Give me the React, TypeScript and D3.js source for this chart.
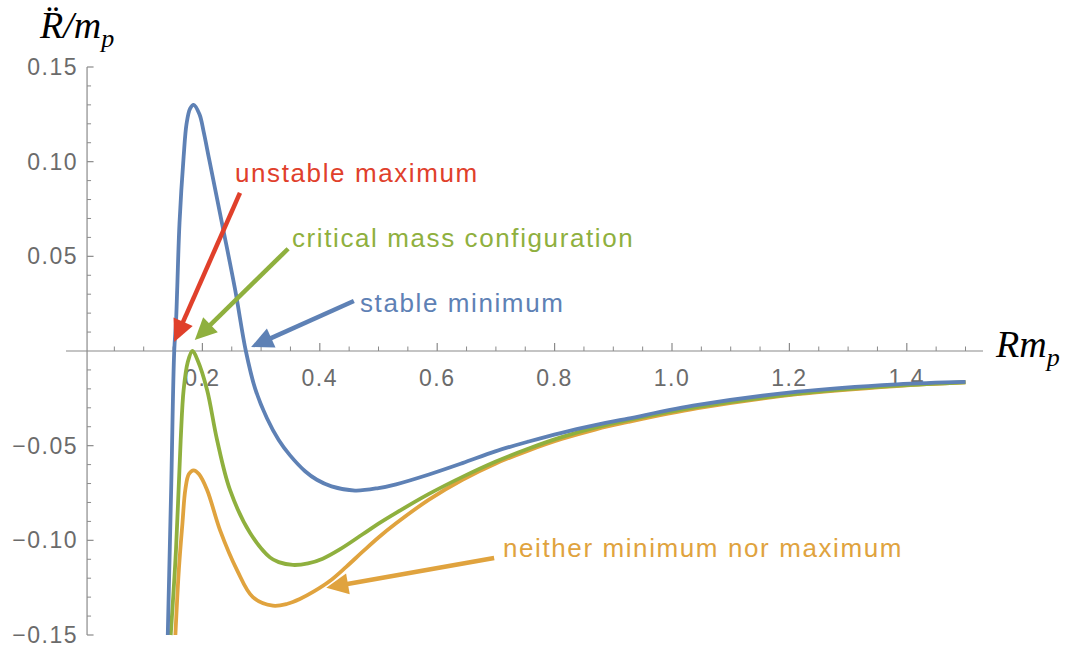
import * as d3 from "d3";

// series: x = R m_p, y = R̈ / m_p
const blueX = [0.141, 0.147, 0.152, 0.155, 0.157, 0.161, 0.168, 0.173, 0.179, 0.185, 0.195, 0.202, 0.212, 0.234, 0.256, 0.274, 0.29, 0.31, 0.33, 0.349, 0.375, 0.395, 0.42, 0.46, 0.5, 0.53, 0.586, 0.643, 0.699, 0.756, 0.812, 0.869, 0.925, 1.044, 1.214, 1.383, 1.5];
const blueY = [-0.15, -0.07, 0.0, 0.015, 0.032, 0.0676, 0.1025, 0.12, 0.128, 0.13, 0.125, 0.116, 0.1005, 0.0665, 0.032, 0.0, -0.02, -0.0355, -0.047, -0.055, -0.0635, -0.068, -0.0715, -0.0737, -0.0724, -0.0704, -0.0652, -0.0592, -0.053, -0.0478, -0.0432, -0.0392, -0.0357, -0.0285, -0.0215, -0.0176, -0.0163];

const greenX = [0.146, 0.155, 0.163, 0.168, 0.175, 0.183, 0.192, 0.208, 0.225, 0.247, 0.281, 0.315, 0.33, 0.354, 0.38, 0.405, 0.434, 0.473, 0.5, 0.53, 0.586, 0.643, 0.699, 0.756, 0.812, 0.869, 0.925, 1.044, 1.214, 1.383, 1.5];
const greenY = [-0.15, -0.105, -0.047, -0.0206, -0.006, 0.0, -0.005, -0.0206, -0.047, -0.0734, -0.096, -0.109, -0.1115, -0.113, -0.1122, -0.1097, -0.1048, -0.0968, -0.0912, -0.0855, -0.0755, -0.0665, -0.0585, -0.0515, -0.0455, -0.0405, -0.0365, -0.0295, -0.0225, -0.0183, -0.0165];

const orangeX = [0.154, 0.16, 0.166, 0.171, 0.177, 0.185, 0.194, 0.208, 0.23, 0.259, 0.286, 0.32, 0.345, 0.366, 0.39, 0.417, 0.445, 0.473, 0.5, 0.53, 0.586, 0.643, 0.699, 0.756, 0.812, 0.869, 0.925, 1.044, 1.214, 1.383, 1.5];
const orangeY = [-0.15, -0.115, -0.091, -0.073, -0.065, -0.063, -0.065, -0.0734, -0.0946, -0.1157, -0.13, -0.1345, -0.1335, -0.131, -0.127, -0.1215, -0.114, -0.106, -0.0985, -0.091, -0.0785, -0.068, -0.0595, -0.0525, -0.0465, -0.0415, -0.0375, -0.0302, -0.0228, -0.0185, -0.0166];

const xTickLabels = ["0.2", "0.4", "0.6", "0.8", "1.0", "1.2", "1.4"];
const xTickValues = [0.2, 0.4, 0.6, 0.8, 1.0, 1.2, 1.4];
const yTickLabels = ["\u22120.15", "\u22120.10", "\u22120.05", "0.05", "0.10", "0.15"];
const yTickValues = [-0.15, -0.1, -0.05, 0.05, 0.1, 0.15];

// annotations: text, label anchor, arrow start, arrow tip (data units)
const notes = [
  { text: "unstable maximum", color: "#e0402b", lx: 0.2555, ly: 0.0893, x0: 0.264, y0: 0.0835, x1: 0.152, y1: 0.0048 },
  { text: "critical mass configuration", color: "#8fb03e", lx: 0.3526, ly: 0.0549, x0: 0.346, y0: 0.054, x1: 0.187, y1: 0.0058 },
  { text: "stable minimum", color: "#5e81b5", lx: 0.4685, ly: 0.0206, x0: 0.458, y0: 0.0264, x1: 0.283, y1: 0.0021 },
  { text: "neither minimum nor maximum", color: "#e0a33e", lx: 0.712, ly: -0.1088, x0: 0.697, y0: -0.1093, x1: 0.411, y1: -0.125 },
];

const W = 1066;
const H = 650;

export default function App() {
  const x = d3.scaleLinear().domain([0, 1.5]).range([85, 85 + 1.5 * 587]);
  const y = d3.scaleLinear().domain([-0.15, 0.15]).range([635, 67]);
  const axisX = x(0.0035);
  const y0 = y(0);

  const line = d3
    .line<[number, number]>()
    .x((d) => x(d[0]))
    .y((d) => y(d[1]))
    .curve(d3.curveCatmullRom.alpha(0.5));

  const series = [
    { xs: orangeX, ys: orangeY, color: "#e0a33e" },
    { xs: greenX, ys: greenY, color: "#8fb03e" },
    { xs: blueX, ys: blueY, color: "#5e81b5" },
  ];

  const xMinor = d3.range(1, 31).map((i) => i * 0.05).filter((v) => Math.abs(v / 0.2 - Math.round(v / 0.2)) > 1e-6);
  const yMinor = d3.range(-15, 16).map((i) => i * 0.01).filter((v) => Math.abs(v / 0.05 - Math.round(v / 0.05)) > 1e-6);

  const tickFont = { fontFamily: "Liberation Sans, Arial, sans-serif", fontSize: 23, letterSpacing: 1.5, fill: "#6b6b6b" };
  const axisColor = "#8a8a8a";
  const serif = "Liberation Serif, Times New Roman, serif";

  const arrow = (n: (typeof notes)[number]) => {
    const ax = x(n.x0), ay = y(n.y0), bx = x(n.x1), by = y(n.y1);
    const dx = bx - ax, dy = by - ay;
    const len = Math.hypot(dx, dy);
    const ux = dx / len, uy = dy / len;
    const hl = 22, hw = 10.5;
    const cx = bx - ux * hl, cy = by - uy * hl;
    const pts = [
      [bx, by],
      [cx - uy * hw, cy + ux * hw],
      [cx + uy * hw, cy - ux * hw],
    ];
    return (
      <g key={n.text}>
        <line x1={ax} y1={ay} x2={cx + ux * 2} y2={cy + uy * 2} stroke={n.color} strokeWidth={4.5} />
        <polygon points={pts.map((p) => p.join(",")).join(" ")} fill={n.color} />
      </g>
    );
  };

  return (
    <svg width={W} height={H} style={{ position: "absolute", left: 0, top: 0, background: "#fff" }}>
      {/* axes */}
      <line x1={66} x2={983} y1={y0} y2={y0} stroke={axisColor} strokeWidth={1.2} />
      <line x1={axisX} x2={axisX} y1={y(0.15)} y2={y(-0.15)} stroke={axisColor} strokeWidth={1.2} />
      {xTickValues.map((v) => (
        <line key={"xt" + v} x1={x(v)} x2={x(v)} y1={y0} y2={y0 - 8} stroke={axisColor} strokeWidth={1.2} />
      ))}
      {xMinor.map((v) => (
        <line key={"xm" + v} x1={x(v)} x2={x(v)} y1={y0} y2={y0 - 4.5} stroke={axisColor} strokeWidth={1} />
      ))}
      {yTickValues.map((v) => (
        <line key={"yt" + v} x1={axisX} x2={axisX + 6.5} y1={y(v)} y2={y(v)} stroke={axisColor} strokeWidth={1.2} />
      ))}
      {yMinor.map((v) => (
        <line key={"ym" + v} x1={axisX} x2={axisX + 4} y1={y(v)} y2={y(v)} stroke={axisColor} strokeWidth={1} />
      ))}
      {xTickValues.map((v, i) => (
        <text key={"xl" + v} x={x(v)} y={y0 + 35} textAnchor="middle" {...tickFont}>
          {xTickLabels[i]}
        </text>
      ))}
      {yTickValues.map((v, i) => (
        <text key={"yl" + v} x={78} y={y(v)} textAnchor="end" dominantBaseline="central" {...tickFont}>
          {yTickLabels[i]}
        </text>
      ))}

      {/* axis labels */}
      <text x={40} y={38} fontFamily={serif} fontStyle="italic" fontSize={38} fill="#000">
        {"R\u0308/m"}
        <tspan fontSize={26} dy={9}>p</tspan>
      </text>
      <text x={996} y={357} fontFamily={serif} fontStyle="italic" fontSize={38} fill="#000">
        Rm
        <tspan fontSize={26} dy={9}>p</tspan>
      </text>

      {/* curves */}
      {series.map((s) => (
        <path
          key={s.color}
          d={line(s.xs.map((v, i) => [v, s.ys[i]] as [number, number])) || ""}
          fill="none"
          stroke={s.color}
          strokeWidth={3.8}
          strokeLinejoin="round"
        />
      ))}

      {/* annotations */}
      {notes.map(arrow)}
      {notes.map((n) => (
        <text
          key={"t" + n.text}
          x={x(n.lx)}
          y={y(n.ly)}
          fontFamily="Liberation Sans, Arial, sans-serif"
          fontSize={26}
          letterSpacing={1.6}
          fill={n.color}
        >
          {n.text}
        </text>
      ))}
    </svg>
  );
}
